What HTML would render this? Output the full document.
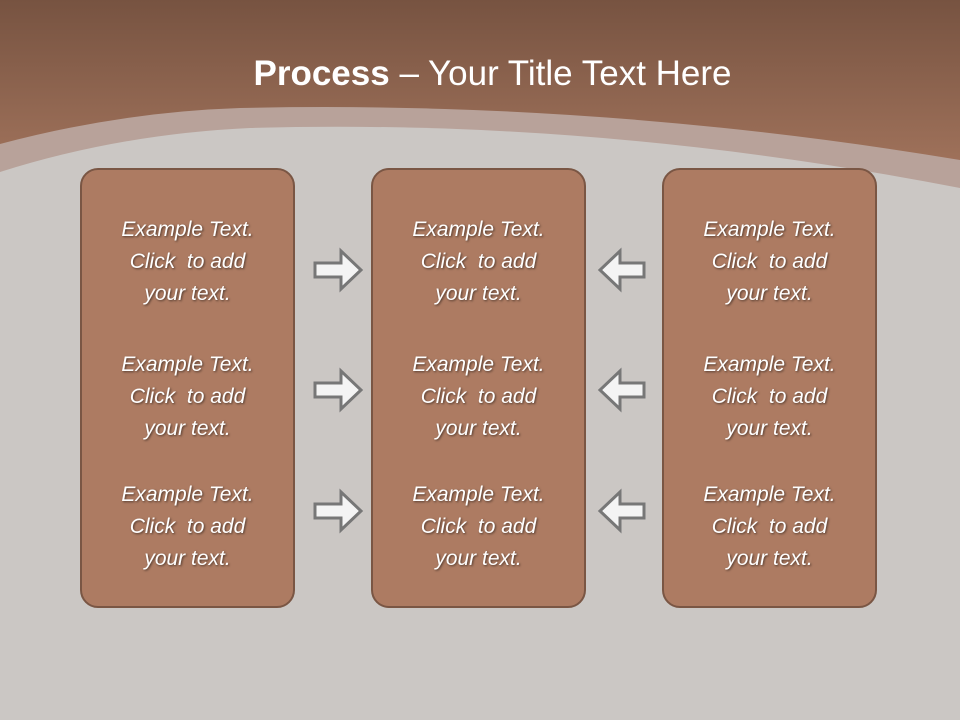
<!DOCTYPE html>
<html><head><style>
body{margin:0;width:960px;height:720px;overflow:hidden;position:relative;font-family:"Liberation Sans",sans-serif;background:#c9c5c2}
svg{position:absolute;left:0;top:0}
.box{position:absolute;top:168px;width:215px;height:440px;background:#ad7b62;border:2px solid #7a5644;border-radius:18px;box-sizing:border-box}
.t{position:absolute;left:0;width:100%;text-align:center;color:#fff;font-style:italic;font-size:21px;line-height:32px;text-shadow:1px 1px 2px rgba(0,0,0,.55)}
h1{position:absolute;top:54px;left:0;width:985px;text-align:center;margin:0;color:#fff;font-size:35px;font-weight:normal}
</style></head><body>
<svg width="960" height="720">
<defs><linearGradient id="g" x1="0" y1="0" x2="0" y2="1"><stop offset="0" stop-color="#775341"/><stop offset="1" stop-color="#ad7c63"/></linearGradient></defs>
<rect width="960" height="220" fill="url(#g)"/>
<path d="M0 144 Q120 112 240 108 Q600 100 960 160 L960 720 L0 720Z" fill="#b8a29a"/>
<path d="M0 172 Q120 134 250 128 Q600 118 960 188 L960 720 L0 720Z" fill="#cbc7c4"/>
<g fill="#f4f4f4" stroke="#777" stroke-width="3">
<path id="r" d="M315 263 H341 V251 L361 270 L341 289 V277 H315Z"/>
<use href="#r" y="120"/><use href="#r" y="241"/>
<path id="l" d="M644 263 H620 V251 L600 270 L620 289 V277 H644Z"/>
<use href="#l" y="120"/><use href="#l" y="241"/>
</g>
</svg>
<h1><b>Process</b> – Your Title Text Here</h1>
<div class="box" style="left:80px"><div class="t" style="top:44px">Example Text.<br>Click &nbsp;to add<br>your text.</div><div class="t" style="top:179px">Example Text.<br>Click &nbsp;to add<br>your text.</div><div class="t" style="top:309px">Example Text.<br>Click &nbsp;to add<br>your text.</div></div>
<div class="box" style="left:371px"><div class="t" style="top:44px">Example Text.<br>Click &nbsp;to add<br>your text.</div><div class="t" style="top:179px">Example Text.<br>Click &nbsp;to add<br>your text.</div><div class="t" style="top:309px">Example Text.<br>Click &nbsp;to add<br>your text.</div></div>
<div class="box" style="left:662px"><div class="t" style="top:44px">Example Text.<br>Click &nbsp;to add<br>your text.</div><div class="t" style="top:179px">Example Text.<br>Click &nbsp;to add<br>your text.</div><div class="t" style="top:309px">Example Text.<br>Click &nbsp;to add<br>your text.</div></div>
</body></html>
